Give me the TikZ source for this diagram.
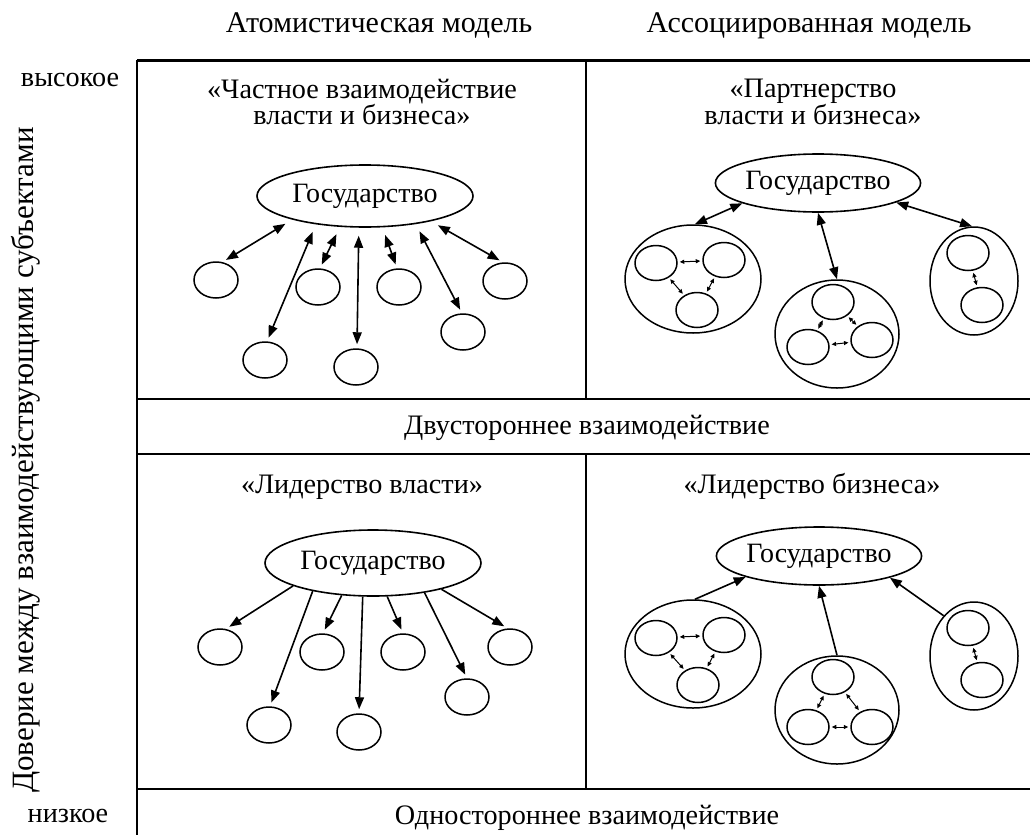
\documentclass[tikz,border=0pt]{standalone}
\usepackage{fontspec}
\setmainfont{Liberation Serif}
\usetikzlibrary{shapes.geometric,arrows.meta}

\tikzset{
  gos/.style={ellipse, draw, line width=1.6pt, inner sep=0pt, font=\fontsize{28}{26}\selectfont},
  sm/.style={ellipse, draw, line width=1.5pt, minimum width=44, minimum height=36, inner sep=0pt},
  sm2/.style={sm, minimum width=42, minimum height=35},
  grp/.style={ellipse, draw, line width=1.5pt, inner sep=0pt},
  dbl/.style={line width=1.6pt, {Triangle[length=12pt,width=9pt]}-{Triangle[length=12pt,width=9pt]}},
  one/.style={line width=1.6pt, -{Triangle[length=12pt,width=9pt]}},
  pair/.style={line width=1pt, shorten <=2pt, shorten >=2pt, {Triangle[length=4.5pt,width=4pt]}-{Triangle[length=4.5pt,width=4pt]}},
  txt/.style={font=\fontsize{28.2}{26}\selectfont, align=center, inner sep=0pt},
  lbl/.style={txt, text height=21pt, text depth=7pt},
  frame/.style={line width=1.4pt}
}

\begin{document}
\begin{tikzpicture}[x=1pt, y=-1pt, node distance=80pt]
			\useasboundingbox (0,0) rectangle (1030,835);

			\draw[line width=3pt] (137,60) -- (1030,60);
			\draw[frame] (137,60) -- (137,835);
			\draw[frame] (586,60) -- (586,399);
			\draw[frame] (586,454) -- (586,789);
			\draw[frame] (137,399) -- (1030,399);
			\draw[frame] (137,454) -- (1030,454);
			\draw[frame] (137,789) -- (1030,789);

			\node[lbl, font=\fontsize{30}{30}\selectfont] (m1) at (379,25) {Атомистическая модель};
			\node[lbl, font=\fontsize{30}{30}\selectfont] (m2) at (809,25) {Ассоциированная модель};
			\node[lbl] (hi) at (70,79) {высокое};
			\node[lbl] (lo) at (68,815) {низкое};
			\node[txt, rotate=90, font=\fontsize{31}{31}\selectfont] (dov) at (26,460) {Доверие между взаимодействующими субъектами};
			\node[txt] (t1) at (362,102) {«Частное взаимодействие\\власти и бизнеса»};
			\node[txt] (t2) at (813,102) {«Партнерство\\власти и бизнеса»};
			\node[lbl] (b1) at (587,427) {Двустороннее взаимодействие};
			\node[lbl] (t3) at (362,486) {«Лидерство власти»};
			\node[lbl] (t4) at (812,486) {«Лидерство бизнеса»};
			\node[lbl] (b2) at (587,817) {Одностороннее взаимодействие};

			\node[gos, minimum width=216, minimum height=62] (g1) at (365,196) {Государство};
			\node[sm] (1)[below of = g1, xshift=-149, yshift=-4] {};
			\node[sm] (2)[below of = g1, xshift=-47, yshift=-11] {};
			\node[sm] (3)[below of = g1, xshift=34, yshift=-11] {};
			\node[sm] (4)[below of = g1, xshift=140, yshift=-5] {};
			\node[sm] (5)[below of = 1, xshift=49] {};
			\node[sm] (6)[below of = 2, xshift=38] {};
			\node[sm] (7)[below of = 4, xshift=-42, yshift=29] {};

			\path[dbl, shorten <=8pt, shorten >=4pt]
				(g1.198) edge (1.70)
				(g1.210) edge (5.84)
				(g1.231) edge (2.84)
				(g1.259) edge (6.87)
				(g1.299) edge (3.96)
				(g1.331) edge (7.93)
				(g1.339) edge (4.96)
			;

			\node[gos, minimum width=200, minimum height=58] (g2) at (818,183) {Государство};
			\node[grp, minimum width=136, minimum height=108] (k1)[below of = g2, xshift=-125, yshift=-16] {};
			\node[grp, minimum width=124, minimum height=108] (k2)[below of = g2, xshift=19, yshift=-71] {};
			\node[grp, minimum width=88, minimum height=108] (k3)[below of = g2, xshift=156, yshift=-18] {};
			\node[sm2, xshift=-37, yshift=16] (21) at (k1) {};
			\node[sm2, xshift=31, yshift=19] (22) at (k1) {};
			\node[sm2, xshift=4, yshift=-31] (23) at (k1) {};
			\node[sm2, xshift=-4, yshift=32] (24) at (k2) {};
			\node[sm2, xshift=-29, yshift=-13] (25) at (k2) {};
			\node[sm2, xshift=35, yshift=-6] (26) at (k2) {};
			\node[sm2, xshift=-6, yshift=28] (27) at (k3) {};
			\node[sm2, xshift=8, yshift=-24] (28) at (k3) {};

			\path[dbl]
				(k1.88) edge (g2.195)
				(k2.90) edge (g2.270)
				(k3.92) edge (g2.346)
			;
			\path[pair]
				(21) edge (22)
				(22) edge (23)
				(21) edge (23)
				(24) edge (25)
				(24) edge (26)
				(25) edge (26)
				(27) edge (28)
			;

			\node[gos, minimum width=216, minimum height=66] (g3) at (373,563) {Государство};
			\node[sm] (11)[below of = g3, xshift=-153, yshift=-4] {};
			\node[sm] (12)[below of = g3, xshift=-51, yshift=-9] {};
			\node[sm] (13)[below of = g3, xshift=30, yshift=-9] {};
			\node[sm] (14)[below of = g3, xshift=137, yshift=-4] {};
			\node[sm] (15)[below of = 11, xshift=49, yshift=2] {};
			\node[sm] (16)[below of = 12, xshift=37] {};
			\node[sm] (17)[below of = 14, xshift=-43, yshift=30] {};

			\path[one, shorten >=4pt]
				(g3.196) edge (11.72)
				(g3.205) edge (15.87)
				(g3.226) edge (12.87)
				(g3.253) edge (16.90)
				(g3.293) edge (13.90)
				(g3.330) edge (17.90)
				(g3.339) edge (14.97)
			;

			\node[gos, minimum width=198, minimum height=58] (g4) at (819,556) {Государство};
			\node[grp, minimum width=136, minimum height=108] (k4)[below of = g4, xshift=-126, yshift=-18] {};
			\node[grp, minimum width=124, minimum height=108] (k5)[below of = g4, xshift=18, yshift=-74] {};
			\node[grp, minimum width=88, minimum height=108] (k6)[below of = g4, xshift=155, yshift=-20] {};
			\node[sm2, xshift=-37, yshift=16] (31) at (k4) {};
			\node[sm2, xshift=31, yshift=19] (32) at (k4) {};
			\node[sm2, xshift=5, yshift=-31] (33) at (k4) {};
			\node[sm2, xshift=-4, yshift=33] (34) at (k5) {};
			\node[sm2, xshift=-29, yshift=-17] (35) at (k5) {};
			\node[sm2, xshift=35, yshift=-17] (36) at (k5) {};
			\node[sm2, xshift=-6, yshift=28] (37) at (k6) {};
			\node[sm2, xshift=8, yshift=-24] (38) at (k6) {};

			\path[one]
				(k4.88) edge (g4.196)
				(k5.90) edge (g4.270)
				(k6.127) edge (g4.343)
			;
			\path[pair]
				(31) edge (32)
				(32) edge (33)
				(31) edge (33)
				(34) edge (35)
				(34) edge (36)
				(35) edge (36)
				(37) edge (38)
			;
		\end{tikzpicture}
\end{document}
